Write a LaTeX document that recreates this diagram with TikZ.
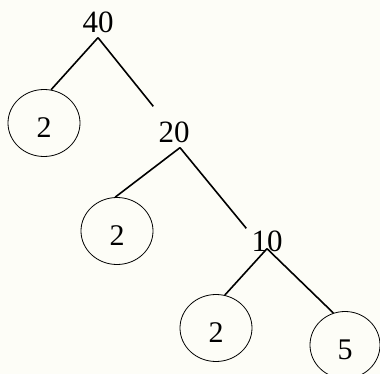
\documentclass[tikz,border=0pt]{standalone}
\usepackage{fontspec}
\setmainfont{Liberation Serif}
\usepackage{tikz}
\usetikzlibrary{shapes.geometric}

\definecolor{paper}{RGB}{253,253,247}

\tikzset{
  num/.style={inner sep=5pt,font=\fontsize{31}{33}\selectfont},
  leaf/.style={shape=ellipse,draw,line width=0.8pt,inner sep=0pt,
      minimum width=72pt,minimum height=67pt,text height=29pt,text depth=0pt,
      font=\fontsize{30}{32}\selectfont},
  branch/.style={line width=1.6pt}
}

\begin{document}
\begin{tikzpicture}[x=1pt,y=-1pt]
  \fill[paper] (0,0) rectangle (380,374);
  \useasboundingbox (0,0) rectangle (380,374);

  \node [num] (n40) at (98,22) {40};
  \node [num] (n20) at (174,132) {20};
  \node [num] (n10) at (267,241) {10};

  \node [leaf] (leaf1) at (44,123) {2};
  \node [leaf] (leaf2) at (117,231) {2};
  \node [leaf] (leaf3) at (216,328) {2};
  \node [leaf,minimum width=70pt] (leaf4) at (345,345) {5};

  \draw [branch] (n40.south) -- (leaf1.78);
  \draw [branch] (n40.south) -- ([yshift=10pt]n20.north west);
  \draw [branch] ([xshift=6pt]n20.south) -- (leaf2.93);
  \draw [branch] ([xshift=6pt]n20.south) -- ([yshift=-3pt]n10.north west);
  \draw [branch] ([yshift=8pt]n10.south) -- (leaf3.75);
  \draw [branch] ([yshift=8pt]n10.south) -- (leaf4.110);
\end{tikzpicture}
\end{document}
